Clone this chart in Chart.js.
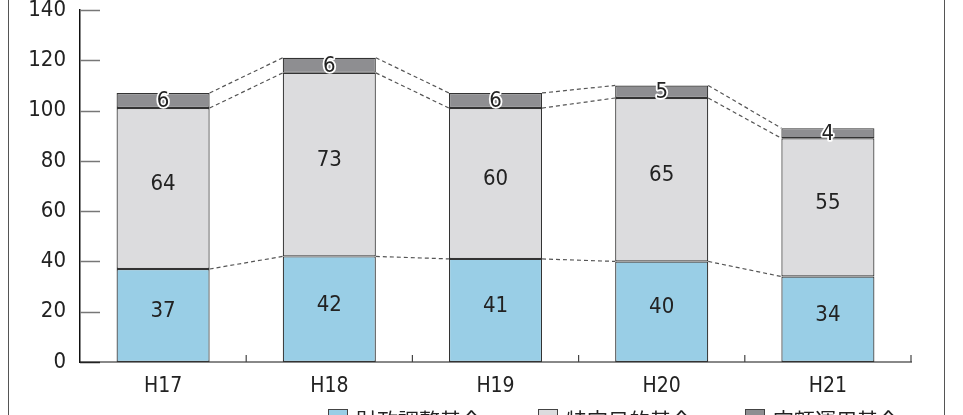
<!DOCTYPE html>
<html>
<head>
<meta charset="utf-8">
<script src="https://cdn.jsdelivr.net/npm/chart.js@4.4.1/dist/chart.umd.min.js"></script>
<style>
  html, body { margin: 0; padding: 0; background: #fff; overflow: hidden; }
  #wrap { position: relative; width: 963px; height: 415px; }
  #frame { position: absolute; left: 8px; top: 0; width: 937px; height: 415px;
           border-left: 1.5px solid #555; border-right: 1.5px solid #555; box-sizing: border-box; }
  .leg { position: absolute; top: 408px; font-family: 'Noto Sans CJK JP', sans-serif;
         font-size: 21px; color: #222; line-height: 22px; white-space: nowrap; }
  .leg span { display: inline-block; width: 18px; height: 16px; border: 1.5px solid #444;
              vertical-align: top; margin-right: 8px; margin-top: 1px; }
</style>
</head>
<body>
<div id="wrap">
  <canvas id="c" width="963" height="415"></canvas>
  <div id="frame"></div>
  <div id="legend"></div>
</div>
<script>
// values
const years = ['H17', 'H18', 'H19', 'H20', 'H21'];
const fiscalFund = [37, 42, 41, 40, 34];      // 財政調整基金
const specificFund = [64, 73, 60, 65, 55];    // 特定目的基金
const fixedFund = [6, 6, 6, 5, 4];            // 定額運用基金
const yTicks = [0, 20, 40, 60, 80, 100, 120, 140];

const seriesNames = ['財政調整基金', '特定目的基金', '定額運用基金'];
const colors = ['#99cee6', '#dcdcde', '#8e8e91'];
const legendX = [328, 538, 745];

const numFont = "'Liberation Sans Narrow', 'DejaVu Sans Condensed', 'Roboto', sans-serif";

// legend (cut off at the bottom like the original)
const legend = document.getElementById('legend');
seriesNames.forEach((name, i) => {
  const d = document.createElement('div');
  d.className = 'leg';
  d.style.left = legendX[i] + 'px';
  d.innerHTML = '<span style="background:' + colors[i] + '"></span>' + name;
  legend.appendChild(d);
});

// dashed connectors, inner ticks and value labels
const extras = {
  id: 'extras',
  afterDatasetsDraw(chart) {
    const ctx = chart.ctx;

    // dashed lines between the segment tops
    ctx.save();
    ctx.strokeStyle = '#555';
    ctx.lineWidth = 1.2;
    ctx.setLineDash([4, 3]);
    for (let d = 0; d < 3; d++) {
      const meta = chart.getDatasetMeta(d);
      for (let i = 0; i < years.length - 1; i++) {
        const a = meta.data[i], b = meta.data[i + 1];
        ctx.beginPath();
        ctx.moveTo(a.x + a.width / 2, a.y);
        ctx.lineTo(b.x - b.width / 2, b.y);
        ctx.stroke();
      }
    }
    ctx.restore();

    // value labels
    ctx.save();
    ctx.textAlign = 'center';
    ctx.textBaseline = 'middle';
    ctx.font = '22px ' + numFont;
    chart.data.datasets.forEach((ds, d) => {
      const meta = chart.getDatasetMeta(d);
      meta.data.forEach((bar, i) => {
        let cy = (bar.y + bar.base) / 2;
        if (d < 2) cy -= 5;
        const txt = String(ds.data[i]);
        if (d === 2) {
          ctx.lineWidth = 3.5;
          ctx.strokeStyle = '#fff';
          ctx.lineJoin = 'round';
          ctx.strokeText(txt, bar.x, cy + 1);
        }
        ctx.fillStyle = '#222';
        ctx.fillText(txt, bar.x, cy + 1);
      });
    });
    ctx.restore();
  },
  afterDraw(chart) {
    const ctx = chart.ctx;
    const x = chart.scales.x, y = chart.scales.y;
    const area = chart.chartArea;
    ctx.save();
    // y ticks pointing into the plot
    ctx.lineWidth = 1.5;
    yTicks.forEach(v => {
      const py = Math.round(y.getPixelForValue(v)) + 0.5;
      ctx.strokeStyle = v === 0 ? '#222' : '#777';
      ctx.beginPath();
      ctx.moveTo(area.left, py);
      ctx.lineTo(area.left + 20, py);
      ctx.stroke();
    });
    // x category boundary ticks
    ctx.strokeStyle = '#444';
    ctx.lineWidth = 1.2;
    const step = x.getPixelForValue(1) - x.getPixelForValue(0);
    for (let i = 0; i < years.length; i++) {
      const px = x.getPixelForValue(i) + step / 2;
      ctx.beginPath();
      ctx.moveTo(px, area.bottom);
      ctx.lineTo(px, area.bottom - 7);
      ctx.stroke();
    }
    ctx.restore();
  }
};

new Chart(document.getElementById('c'), {
  type: 'bar',
  data: {
    labels: years,
    datasets: [
      { label: seriesNames[0], data: fiscalFund, backgroundColor: colors[0] },
      { label: seriesNames[1], data: specificFund, backgroundColor: colors[1] },
      { label: seriesNames[2], data: fixedFund, backgroundColor: colors[2] }
    ].map(ds => Object.assign(ds, {
      borderColor: '#333',
      borderWidth: 1.2,
      borderSkipped: false,
      barPercentage: 0.56,
      categoryPercentage: 1
    }))
  },
  options: {
    responsive: false,
    animation: false,
    layout: { padding: { top: 10, right: 52, left: 0, bottom: 0 } },
    plugins: { legend: { display: false }, tooltip: { enabled: false } },
    scales: {
      x: {
        stacked: true,
        afterFit(s) { s.height = 53; s.paddingLeft = 0; s.paddingRight = 0; },
        grid: { display: false },
        border: { display: true, color: '#888', width: 2 },
        ticks: { color: '#222', padding: 4, font: { family: numFont, size: 21 } }
      },
      y: {
        stacked: true,
        min: 0,
        max: 140,
        afterFit(s) { s.width = 80; s.paddingTop = 0; s.paddingBottom = 0; },
        afterBuildTicks(s) { s.ticks = yTicks.map(v => ({ value: v })); },
        grid: { display: false, drawTicks: false },
        border: { display: true, color: '#111', width: 1.5 },
        ticks: { color: '#222', padding: 14, font: { family: numFont, size: 22 } }
      }
    }
  },
  plugins: [extras]
});
</script>
</body>
</html>
